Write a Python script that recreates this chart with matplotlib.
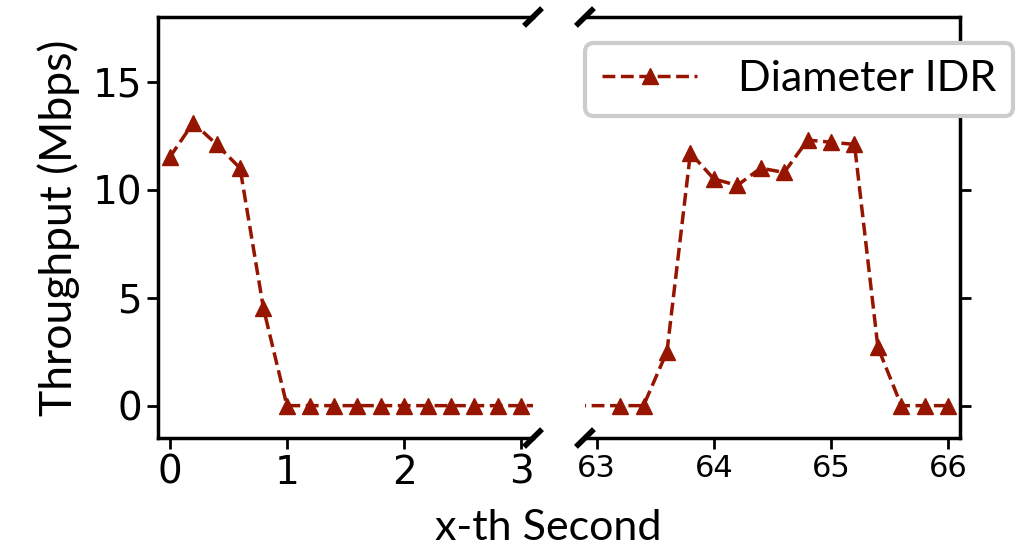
import numpy as np
import matplotlib
matplotlib.use("Agg")
import matplotlib.pyplot as plt

# data
t_left = [0.0, 0.2, 0.4, 0.6, 0.8, 1.0, 1.2, 1.4, 1.6, 1.8, 2.0, 2.2, 2.4, 2.6, 2.8, 3.0, 3.2]
thr_left = [11.5, 13.1, 12.1, 11.0, 4.5, 0, 0, 0, 0, 0, 0, 0, 0, 0, 0, 0, 0]

t_right = [62.8, 63.2, 63.4, 63.6, 63.8, 64.0, 64.2, 64.4, 64.6, 64.8, 65.0, 65.2, 65.4, 65.6, 65.8, 66.0]
thr_right = [0, 0, 0, 2.5, 11.7, 10.5, 10.2, 11.0, 10.8, 12.3, 12.2, 12.1, 2.7, 0, 0, 0]

left_ticks = [0, 1, 2, 3]
right_ticks = [63, 64, 65, 66]
y_ticks = [0, 5, 10, 15]

color = '#961500'
label_font = 'Lato'

fig = plt.figure(figsize=(10.28, 5.5), dpi=100)
ax1 = fig.add_axes([0.1537, 0.2036, 0.3648, 0.7655])
ax2 = fig.add_axes([0.569, 0.2036, 0.3648, 0.7655])

style = dict(color=color, linestyle='--', linewidth=2.5, marker='^', markersize=12)
ax1.plot(t_left, thr_left, label='Diameter IDR', **style)
ax2.plot(t_right, thr_right, label='Diameter IDR', **style)

ax1.set_xlim(-0.1, 3.1)
ax2.set_xlim(62.9, 66.1)
for ax in (ax1, ax2):
    ax.set_ylim(-1.5, 18)
    ax.set_yticks(y_ticks)
    for s in ax.spines.values():
        s.set_linewidth(2.5)
    ax.tick_params(width=2, length=8)

ax1.set_xticks(left_ticks)
ax2.set_xticks(right_ticks)
ax1.tick_params(labelsize=28)
ax2.tick_params(axis='x', labelsize=22)

ax1.spines['right'].set_visible(False)
ax2.spines['left'].set_visible(False)
ax2.yaxis.tick_right()
ax2.tick_params(axis='y', labelright=False)

# break marks
dx, dy = 0.024, 0.021
kw = dict(color='k', linewidth=4, clip_on=False, solid_capstyle='butt')
for ax, x0 in ((ax1, 1), (ax2, 0)):
    for y0 in (0, 1):
        ax.plot([x0 - dx, x0 + dx], [y0 - dy, y0 + dy], transform=ax.transAxes, **kw)

fig.text(0.057, 0.586, 'Throughput (Mbps)', fontsize=32, family=label_font,
         rotation=90, ha='center', va='center')
fig.text(0.533, 0.04, 'x-th Second', fontsize=31, family=label_font, ha='center', va='center')

leg = ax2.legend(loc='upper left', bbox_to_anchor=(0.0, 0.938),
                 prop={'family': label_font, 'size': 31}, handlelength=2.2,
                 handletextpad=0.95, fancybox=True, framealpha=1, borderaxespad=0)
leg.get_frame().set_edgecolor('#cccccc')
leg.get_frame().set_linewidth(3)

fig.savefig('out.png', dpi=100)
